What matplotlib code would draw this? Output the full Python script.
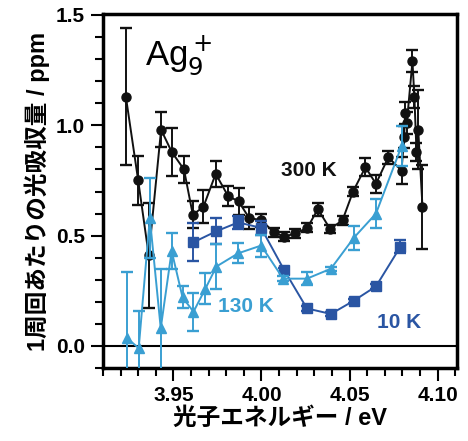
import matplotlib.pyplot as plt

plt.rcParams['font.family'] = ['Liberation Sans', 'Noto Sans CJK JP', 'DejaVu Sans']

# 300 K
e_300 = [3.923, 3.930, 3.936, 3.943, 3.949, 3.956, 3.961, 3.967, 3.974, 3.981,
         3.987, 3.993, 4.000, 4.007, 4.013, 4.019, 4.026, 4.032, 4.039, 4.046,
         4.052, 4.059, 4.065, 4.072, 4.0795, 4.081, 4.0815, 4.0825, 4.0857,
         4.0868, 4.088, 4.089, 4.0914]
v_300 = [1.13, 0.75, 0.41, 0.98, 0.88, 0.80, 0.595, 0.63, 0.78, 0.68,
         0.655, 0.58, 0.57, 0.515, 0.495, 0.51, 0.535, 0.62, 0.53, 0.57,
         0.70, 0.81, 0.735, 0.855, 0.795, 0.945, 1.055, 1.01, 1.29,
         1.13, 0.88, 0.98, 0.63]
err_300 = [0.31, 0.11, 0.24, 0.08, 0.11, 0.06, 0.06, 0.075, 0.06, 0.045,
           0.06, 0.05, 0.03, 0.02, 0.02, 0.02, 0.02, 0.03, 0.02, 0.02,
           0.02, 0.04, 0.04, 0.03, 0.06, 0.05, 0.05, 0.05, 0.05,
           0.05, 0.04, 0.18, 0.19]

# 130 K
e_130 = [3.9236, 3.9303, 3.9366, 3.9428, 3.949, 3.9552, 3.9614, 3.9682, 3.9744,
         3.9868, 3.9998, 4.0123, 4.0258, 4.0394, 4.0524, 4.065, 4.0795]
v_130 = [0.036, -0.01, 0.58, 0.08, 0.43, 0.22, 0.155, 0.26, 0.36,
         0.42, 0.455, 0.305, 0.305, 0.35, 0.49, 0.60, 0.905]
err_130 = [0.30, 0.17, 0.18, 0.27, 0.08, 0.05, 0.085, 0.07, 0.10,
           0.045, 0.05, 0.01, 0.03, 0.01, 0.055, 0.065, 0.09]

# 10 K
e_10 = [3.9614, 3.9744, 3.9868, 3.9998, 4.0128, 4.0258, 4.0394, 4.0524, 4.065, 4.0789]
v_10 = [0.47, 0.52, 0.56, 0.535, 0.345, 0.17, 0.145, 0.205, 0.27, 0.45]
err_10 = [0.085, 0.06, 0.03, 0.03, 0.01, 0.01, 0.01, 0.01, 0.01, 0.03]

c_300 = '#111111'
c_130 = '#3a9fd2'
c_10 = '#2a55a3'

fig = plt.figure(figsize=(4.68, 4.41), dpi=100)
ax = fig.add_axes([0.220, 0.1655, 0.7565, 0.803])

ax.axhline(0, color='black', lw=1.5, zorder=1)

style = dict(ms=6.5, lw=1.4, capsize=4, capthick=1.7, elinewidth=1.4)
ax.errorbar(e_300, v_300, yerr=err_300, color=c_300, marker='o', zorder=3, **style)
ax.errorbar(e_10, v_10, yerr=err_10, color=c_10, marker='s', zorder=4, **style)
ax.errorbar(e_130, v_130, yerr=err_130, color=c_130, marker='^', zorder=5, **style)

ax.set_xlim(3.91, 4.111)
ax.set_ylim(-0.1, 1.505)
ax.set_xticks([3.95, 4.00, 4.05, 4.10])
ax.set_xticks([3.91 + 0.01 * i for i in range(21)], minor=True)
ax.set_yticks([0.0, 0.5, 1.0, 1.5])
ax.set_yticks([-0.1 + 0.1 * i for i in range(17)], minor=True)
ax.set_xticklabels(['3.95', '4.00', '4.05', '4.10'])
ax.set_yticklabels(['0.0', '0.5', '1.0', '1.5'])

ax.tick_params(which='both', direction='out', width=1.5, labelsize=15, top=False, right=False)
ax.tick_params(which='major', length=9, pad=4)
ax.tick_params(which='minor', length=6)
for lab in ax.get_xticklabels() + ax.get_yticklabels():
    lab.set_fontweight('bold')
for s in ax.spines.values():
    s.set_linewidth(2.5)

ax.set_xlabel('光子エネルギー / eV', fontsize=17, fontweight='bold', labelpad=1)
ax.set_ylabel('1周回あたりの光吸収量 / ppm', fontsize=17, fontweight='bold', labelpad=4)

ax.text(3.934, 1.42, 'Ag$_9^+$', fontsize=25, va='top', ha='left')
ax.text(4.027, 0.795, '300 K', fontsize=15, fontweight='bold', color=c_300, ha='center', va='center')
ax.text(3.991, 0.18, '130 K', fontsize=15, fontweight='bold', color=c_130, ha='center', va='center')
ax.text(4.078, 0.105, '10 K', fontsize=15, fontweight='bold', color=c_10, ha='center', va='center')

fig.savefig('out.png', dpi=100)
